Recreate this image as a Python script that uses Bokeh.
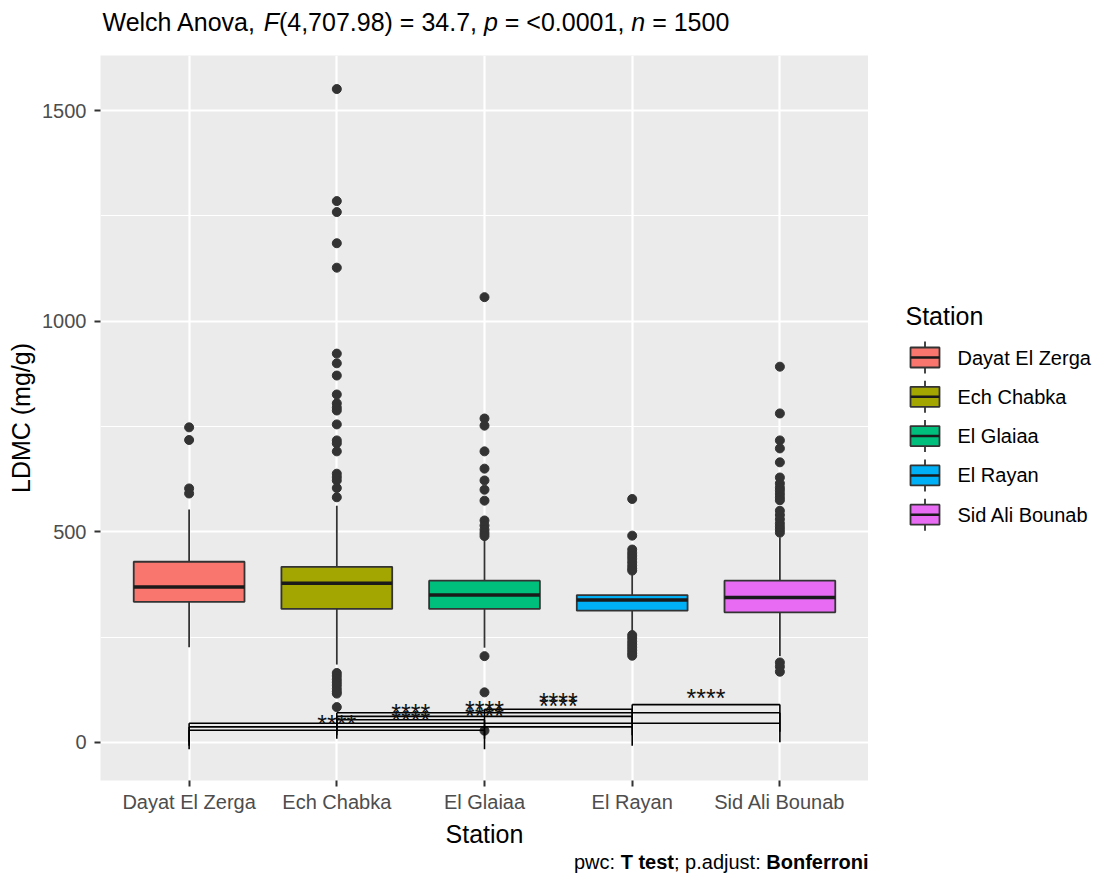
import numpy as np
from bokeh.plotting import figure
from bokeh.layouts import column, row
from bokeh.models import ColumnDataSource, FixedTicker, Label, Range1d
from bokeh.core.properties import value
from bokeh.embed import file_html
from bokeh.resources import INLINE

# ---------------- data ----------------
stations = ["Dayat El Zerga", "Ech Chabka", "El Glaiaa", "El Rayan", "Sid Ali Bounab"]
colors = ["#F8766D", "#A3A500", "#00BF7D", "#00B0F6", "#E76BF3"]
q1 = [334, 317, 317, 313, 309]
median = [369, 378, 350, 338, 344]
q3 = [429, 417, 384, 350, 384]
whisker_low = [226, 185, 225, 262, 205]
whisker_high = [553, 562, 483, 401, 487]

out_dayat = [748, 718, 603, 591]
out_ech = [1551, 1285, 1259, 1185, 1127, 923, 900, 871, 826, 805, 795, 788, 755, 717,
           710, 691, 638, 630, 622, 604, 582, 165, 158, 150, 143, 136, 128, 121, 116, 84]
out_glaiaa = [1057, 769, 752, 691, 650, 622, 600, 574, 527, 515, 505, 497, 490, 205, 119, 28]
out_rayan = [578, 491, 458, 450, 443, 436, 428, 420, 413, 408,
             255, 248, 240, 233, 226, 219, 212, 206]
out_sid = [892, 781, 717, 698, 665, 629, 615, 605, 598, 590, 582, 575,
           550, 540, 530, 520, 512, 505, 498, 190, 180, 168]

# significant pairwise comparisons (group indices, 1-based)
bracket_g1 = [1, 1, 1, 2, 2, 2, 3, 4]
bracket_g2 = [3, 4, 5, 3, 4, 5, 4, 5]
bracket_y = [29, 37, 45.8, 54, 62, 70.5, 79, 90]
bracket_label = ["****"] * 8
tip_length = 45

y_ticks = [0, 500, 1000, 1500]
y_minor = [250, 750, 1250]

title_parts = [("Welch Anova, ", "normal"), ("F", "italic"), ("(4,707.98) = 34.7, ", "normal"),
               ("p", "italic"), (" = <0.0001, ", "normal"), ("n", "italic"), (" = 1500", "normal")]
caption_parts = [("pwc: ", "normal"), ("T test", "bold"), ("; p.adjust: ", "normal"),
                 ("Bonferroni", "bold")]

# ---------------- layout constants (page pixels) ----------------
W, H = 1096, 881
FL, FR, FT, FB = 100, 868, 55, 780     # panel edges
BOTTOM_END = 850                        # bottom of main figure
FONT = "Liberation Sans"
BASE = 25
SMALL = 20


def strip(width, height, x0, x1, y0, y1, bottom=0):
    f = figure(width=width, height=height, x_range=Range1d(x0, x1), y_range=Range1d(y1, y0),
               output_backend="svg", toolbar_location=None, x_axis_type=None, y_axis_type=None,
               min_border_left=0, min_border_right=0, min_border_top=0, min_border_bottom=bottom)
    f.outline_line_color = None
    f.background_fill_color = "white"
    f.border_fill_color = "white"
    f.grid.visible = False
    return f


# ---------------- main panel ----------------
p = figure(width=FR, height=BOTTOM_END - FT, x_range=Range1d(0.4, 5.6),
           y_range=Range1d(-90.2, 1630.6), output_backend="svg", toolbar_location=None,
           min_border_left=FL, min_border_right=0, min_border_top=0,
           min_border_bottom=BOTTOM_END - FB)
p.background_fill_color = "#EBEBEB"
p.border_fill_color = "white"
p.outline_line_color = None

xpos = list(range(1, len(stations) + 1))

p.xaxis.ticker = FixedTicker(ticks=xpos)
p.xaxis.major_label_overrides = {x: s for x, s in zip(xpos, stations)}
p.yaxis.ticker = FixedTicker(ticks=y_ticks, minor_ticks=y_minor)
for ax in (p.xaxis[0], p.yaxis[0]):
    ax.axis_line_color = None
    ax.major_tick_line_color = "#333333"
    ax.major_tick_line_width = 2
    ax.major_tick_out = 6
    ax.major_tick_in = 0
    ax.minor_tick_line_color = None
    ax.major_label_text_color = "#4D4D4D"
    ax.major_label_text_font = FONT
    ax.major_label_text_font_size = f"{SMALL}px"
    ax.axis_label_text_font = FONT
    ax.axis_label_text_font_size = f"{BASE}px"
    ax.axis_label_text_font_style = "normal"
    ax.axis_label_text_color = "#000000"
p.xaxis.axis_label = "Station"
p.yaxis.axis_label = "LDMC (mg/g)"
p.xaxis.major_label_standoff = 4
p.yaxis.major_label_standoff = 8
p.xaxis.axis_label_standoff = 4
p.yaxis.axis_label_standoff = 4

p.xgrid.ticker = FixedTicker(ticks=xpos)
p.ygrid.ticker = FixedTicker(ticks=y_ticks, minor_ticks=y_minor)
for g in (p.xgrid[0], p.ygrid[0]):
    g.grid_line_color = "white"
    g.grid_line_width = 2.2
p.ygrid.minor_grid_line_color = "white"
p.ygrid.minor_grid_line_width = 1.1

box_w = 0.75
src = ColumnDataSource(dict(
    x=xpos, q1=q1, q3=q3, med=median, lo=whisker_low, hi=whisker_high, color=colors,
    mx0=[x - box_w / 2 for x in xpos], mx1=[x + box_w / 2 for x in xpos],
))

ox, oy = [], []
for x, arr in zip(xpos, [out_dayat, out_ech, out_glaiaa, out_rayan, out_sid]):
    ox += [x] * len(arr)
    oy += arr
p.scatter(ox, oy, size=9, color="#333333")

p.segment(x0="x", y0="lo", x1="x", y1="q1", source=src, line_color="#333333", line_width=1.8)
p.segment(x0="x", y0="q3", x1="x", y1="hi", source=src, line_color="#333333", line_width=1.8)
p.vbar(x="x", width=box_w, bottom="q1", top="q3", source=src, fill_color="color",
       line_color="#333333", line_width=1.8)
p.segment(x0="mx0", y0="med", x1="mx1", y1="med", source=src, line_color="#1A1A1A", line_width=3.5)

bx1 = [float(g) for g in bracket_g1]
bx2 = [float(g) for g in bracket_g2]
by = bracket_y
p.segment(x0=bx1, y0=by, x1=bx2, y1=by, line_color="black", line_width=1.6)
p.segment(x0=bx1, y0=by, x1=bx1, y1=[y - tip_length for y in by], line_color="black", line_width=1.6)
p.segment(x0=bx2, y0=by, x1=bx2, y1=[y - tip_length for y in by], line_color="black", line_width=1.6)
p.text(x=[(a + b) / 2 for a, b in zip(bx1, bx2)], y=[y + 16 for y in by], text=bracket_label,
       text_align="center", text_baseline="middle", text_font=value(FONT),
       text_font_size=f"{BASE}px", text_color="#111111")

# ---------------- legend (own strip, page-pixel coordinates) ----------------
leg = strip(W - FR, BOTTOM_END - FT, FR, W, FT, FB, bottom=BOTTOM_END - FB)
key_pitch = 39.3
key_c = [357 + key_pitch * i for i in range(len(stations))]
key_x0, key_x1 = 910, 939
key_xm = (key_x0 + key_x1) / 2
lsrc = ColumnDataSource(dict(
    c=key_c, top=[c - 10 for c in key_c], bot=[c + 10 for c in key_c],
    wt=[c - 16 for c in key_c], wb=[c + 16 for c in key_c], color=colors, label=stations,
    xm=[key_xm] * len(stations), x0=[key_x0] * len(stations), x1=[key_x1] * len(stations),
    tx=[957] * len(stations),
))
leg.segment(x0="xm", y0="wt", x1="xm", y1="top", source=lsrc, line_color="#333333", line_width=1.8)
leg.segment(x0="xm", y0="bot", x1="xm", y1="wb", source=lsrc, line_color="#333333", line_width=1.8)
leg.quad(left="x0", right="x1", top="top", bottom="bot", source=lsrc, fill_color="color",
         line_color="#333333", line_width=1.8)
leg.segment(x0="x0", y0="c", x1="x1", y1="c", source=lsrc, line_color="#1A1A1A", line_width=2.5)
leg.text(x="tx", y="c", text="label", source=lsrc, text_font=value(FONT),
         text_font_size=f"{SMALL}px", text_baseline="middle", text_align="left",
         text_color="#000000")
leg.add_layout(Label(x=905, y=315, text="Station", text_font=FONT, text_font_size=f"{BASE}px",
                     text_color="#000000", text_baseline="middle", text_align="left"))

# ---------------- text width helper (Arial / Liberation Sans metrics) ----------------
REG = {' ': 278, ',': 278, '.': 278, '(': 333, ')': 333, '=': 584, '<': 584, ':': 278, ';': 278,
       'W': 944, 'A': 667, 'F': 611, 'T': 611, 'B': 667,
       'a': 556, 'c': 500, 'd': 556, 'e': 556, 'h': 556, 'i': 222, 'j': 222, 'l': 222,
       'n': 556, 'o': 556, 'p': 556, 'r': 333, 's': 500, 't': 278, 'u': 556, 'v': 500, 'w': 722}
BOLD = {' ': 278, 'T': 611, 'B': 722, 't': 333, 'e': 556, 's': 556, 'o': 611, 'n': 611,
        'f': 333, 'r': 389, 'i': 278}


def tw(s, size, bold=False):
    tab = BOLD if bold else REG
    return sum(tab.get(c, 556) for c in s) * size / 1000.0


def place_parts(fig, parts, x_start, y, size):
    px = x_start
    for txt, style in parts:
        bold = style == "bold"
        lead = len(txt) - len(txt.lstrip(" "))
        px += tw(" " * lead, size, bold)
        body = txt.strip(" ")
        fig.add_layout(Label(x=px, y=y, text=body, text_font=FONT, text_font_size=f"{size}px",
                             text_font_style=style, text_color="#000000",
                             text_baseline="middle", text_align="left"))
        px += tw(txt.lstrip(" "), size, bold)


# ---------------- title strip ----------------
top = strip(W, FT, 0, W, 0, FT)
place_parts(top, title_parts, FL + 2, 21, BASE)

# ---------------- caption strip ----------------
cap = strip(W, H - BOTTOM_END, 0, W, BOTTOM_END, H)
total = sum(tw(t, SMALL, s == "bold") for t, s in caption_parts)
place_parts(cap, caption_parts, FR - total, 861, SMALL)

layout = column(top, row(p, leg), cap)
open("out.html", "w").write(file_html(layout, INLINE))
